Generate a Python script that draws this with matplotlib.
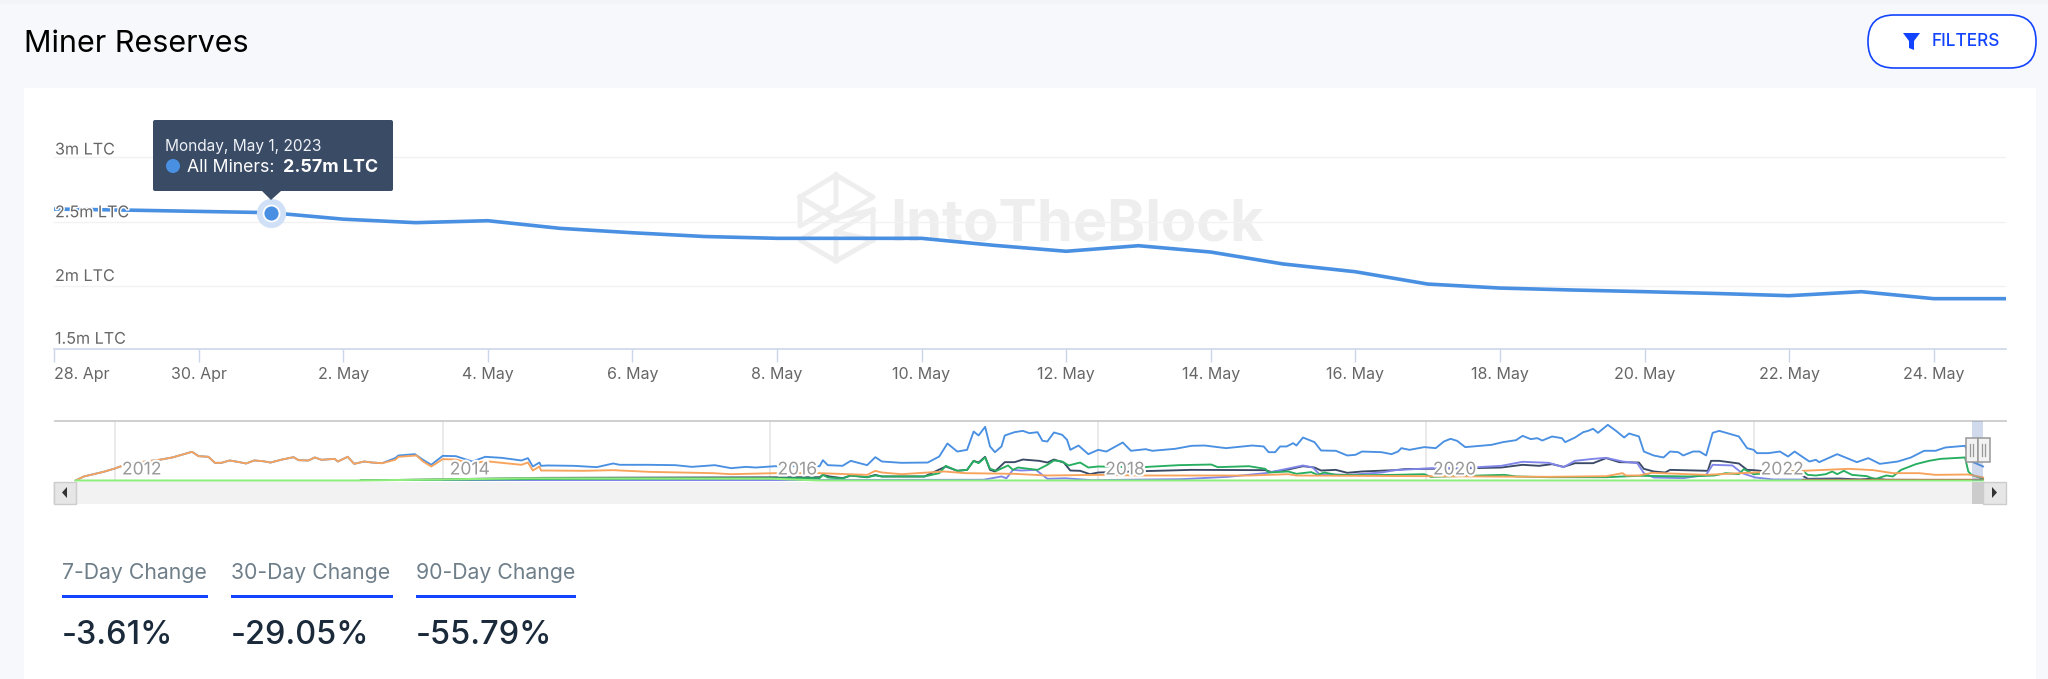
import matplotlib
matplotlib.use('Agg')
import matplotlib.pyplot as plt
import matplotlib.dates as mdates
import matplotlib.patheffects as pe
from matplotlib.patches import FancyBboxPatch, Rectangle, Polygon, Circle
import numpy as np

plt.rcParams['font.family'] = ['Inter', 'DejaVu Sans']

# Main chart, all miners, millions of LTC per day
days = np.arange('2023-04-28', '2023-05-26', dtype='datetime64[D]')
all_miners = [2.598, 2.59, 2.58, 2.57, 2.52, 2.493, 2.508, 2.449, 2.415, 2.386, 2.372, 2.372, 2.372, 2.318,
              2.272, 2.315, 2.266, 2.174, 2.114, 2.019, 1.988, 1.973, 1.96, 1.946, 1.929, 1.96, 1.906, 1.906]
y_ticks = [1.5, 2, 2.5, 3]
y_labels = ['1.5m LTC', '2m LTC', '2.5m LTC', '3m LTC']
tick_days = np.array([np.datetime64('2023-04-28'), np.datetime64('2023-04-30')] + [np.datetime64('2023-05-%02d' % d) for d in range(2, 25, 2)])
tick_labels = ['28. Apr', '30. Apr'] + ['%d. May' % d for d in range(2, 25, 2)]

# Navigator, decimal year and millions of LTC
early_year = [2011.76, 2011.81, 2011.87, 2011.93, 2012.0, 2012.05, 2012.11, 2012.27, 2012.35, 2012.42, 2012.47, 2012.51, 2012.57,
              2012.61, 2012.65, 2012.7, 2012.76, 2012.8, 2012.85, 2012.9, 2012.95, 2013.02, 2013.09, 2013.12, 2013.18, 2013.22,
              2013.26, 2013.34, 2013.36, 2013.42, 2013.46, 2013.52, 2013.57, 2013.63]
early_val = [0, 0.55, 0.86, 1.18, 1.64, 2.05, 2.36, 2.82, 3.14, 3.59, 3.91, 3.32, 3.23,
             2.41, 2.41, 2.73, 2.5, 2.32, 2.73, 2.64, 2.45, 2.86, 3.18, 2.77, 2.73, 3.14,
             2.82, 2.95, 2.59, 3.23, 2.27, 2.59, 2.45, 2.36]

blue_year = [2013.71, 2013.73, 2013.83, 2013.88, 2013.93, 2014.0, 2014.08, 2014.18, 2014.26, 2014.36, 2014.48, 2014.52, 2014.55,
             2014.59, 2014.6, 2014.64, 2014.8, 2014.94, 2015.04, 2015.08, 2015.26, 2015.42, 2015.52, 2015.66, 2015.76, 2015.85,
             2015.91, 2016.03, 2016.3, 2016.32, 2016.35, 2016.44, 2016.49, 2016.59, 2016.64, 2016.68, 2016.8, 2016.96, 2017.03,
             2017.08, 2017.14, 2017.2, 2017.24, 2017.27, 2017.31, 2017.34, 2017.37, 2017.41, 2017.43, 2017.49, 2017.54, 2017.58,
             2017.63, 2017.66, 2017.69, 2017.73, 2017.78, 2017.81, 2017.83, 2017.88, 2017.94, 2018.0, 2018.05, 2018.15, 2018.2,
             2018.29, 2018.33, 2018.47, 2018.57, 2018.65, 2018.78, 2018.94, 2019.01, 2019.04, 2019.08, 2019.11, 2019.15, 2019.19,
             2019.21, 2019.25, 2019.32, 2019.36, 2019.45, 2019.52, 2019.57, 2019.61, 2019.73, 2019.79, 2019.83, 2019.85, 2019.9,
             2019.99, 2020.06, 2020.11, 2020.15, 2020.19, 2020.24, 2020.4, 2020.47, 2020.55, 2020.59, 2020.64, 2020.68, 2020.71,
             2020.77, 2020.83, 2020.85, 2020.91, 2020.96, 2020.99, 2021.02, 2021.05, 2021.11, 2021.16, 2021.21, 2021.24, 2021.3,
             2021.33, 2021.39, 2021.45, 2021.49, 2021.54, 2021.57, 2021.63, 2021.67, 2021.71, 2021.75, 2021.79, 2021.91, 2021.96,
             2022.0, 2022.02, 2022.09, 2022.16, 2022.21, 2022.25, 2022.34, 2022.38, 2022.4, 2022.51, 2022.58, 2022.63, 2022.7,
             2022.77, 2022.88, 2022.96, 2023.04, 2023.11, 2023.17, 2023.29, 2023.33, 2023.36, 2023.4]
blue_val = [3.05, 3.41, 3.59, 2.82, 2.14, 3.36, 3.32, 2.59, 3.23, 3.09, 2.73, 3.05, 1.91,
            2.45, 2.0, 2.05, 2.0, 1.82, 2.32, 2.14, 2.14, 2.09, 1.86, 2.09, 1.68, 1.86,
            1.77, 1.95, 1.95, 2.77, 2.09, 2.0, 2.68, 2.09, 3.18, 2.59, 2.41, 2.45, 3.27,
            5.05, 3.95, 4.18, 6.68, 6.14, 7.32, 4.64, 3.86, 4.64, 6.14, 6.59, 6.77, 6.45,
            6.59, 5.41, 5.32, 6.55, 6.23, 5.55, 4.18, 4.77, 3.59, 4.18, 3.95, 5.18, 4.05,
            4.27, 4.05, 4.32, 4.73, 4.77, 4.41, 4.77, 4.64, 3.86, 3.86, 4.64, 4.64, 5.09,
            4.77, 5.86, 5.23, 4.09, 4.05, 3.41, 3.5, 3.95, 3.86, 3.59, 3.95, 4.41, 4.18,
            4.55, 4.41, 5.32, 5.68, 5.41, 4.55, 4.86, 5.23, 5.5, 6.09, 5.64, 5.77, 5.45,
            6.0, 5.77, 5.23, 5.86, 6.59, 6.77, 7.05, 6.5, 7.59, 6.77, 5.86, 6.41, 6.0,
            3.95, 3.41, 3.14, 3.95, 3.86, 3.41, 3.95, 3.95, 3.41, 6.5, 6.77, 6.0, 4.41,
            4.18, 3.73, 3.73, 3.95, 3.27, 3.95, 2.59, 2.82, 2.5, 3.59, 2.95, 2.5, 3.05,
            2.27, 2.59, 3.14, 4.05, 4.05, 4.5, 4.73, 2.6, 2.3, 1.91]

orange_year = [2013.71, 2013.73, 2013.84, 2013.88, 2013.93, 2014.0, 2014.08, 2014.18, 2014.26, 2014.36, 2014.48, 2014.52, 2014.55,
               2014.59, 2014.6, 2014.64, 2014.86, 2015.04, 2015.26, 2015.65, 2015.76, 2016.03, 2016.3, 2016.59, 2016.64, 2016.68,
               2016.8, 2017.06, 2017.19, 2017.49, 2017.69, 2018.0, 2018.27, 2018.92, 2019.16, 2019.21, 2020.75, 2021.1, 2021.2,
               2021.22, 2021.3, 2021.38, 2021.71, 2022.0, 2022.3, 2022.58, 2022.73, 2022.85, 2023.01, 2023.11, 2023.31, 2023.4]
orange_val = [2.82, 3.23, 3.41, 2.59, 1.91, 2.91, 2.86, 2.27, 2.64, 2.41, 2.14, 2.45, 1.36,
              1.91, 1.36, 1.36, 1.32, 1.41, 1.18, 1.0, 0.86, 1.0, 1.0, 0.77, 1.32, 1.09,
              0.86, 1.23, 1.0, 0.91, 0.68, 0.77, 0.68, 0.68, 0.86, 0.68, 0.5, 0.59, 1.0,
              0.68, 0.68, 1.05, 0.77, 1.09, 1.32, 1.59, 1.41, 1.0, 1.0, 0.77, 0.82, 0.41]

green_year = [2013.5, 2014.0, 2014.6, 2016.3, 2016.32, 2016.35, 2016.44, 2016.49, 2016.59, 2016.64, 2016.68, 2016.94, 2017.03,
              2017.07, 2017.14, 2017.2, 2017.24, 2017.27, 2017.31, 2017.34, 2017.38, 2017.45, 2017.48, 2017.51, 2017.63, 2017.69,
              2017.73, 2017.78, 2017.82, 2017.89, 2017.94, 2018.0, 2018.27, 2018.49, 2018.69, 2018.73, 2018.92, 2019.02, 2019.04,
              2019.16, 2019.21, 2019.3, 2019.34, 2019.38, 2019.45, 2019.63, 2019.81, 2019.99, 2020.03, 2020.48, 2020.55, 2020.75,
              2021.1, 2021.3, 2021.6, 2021.76, 2021.83, 2021.91, 2021.94, 2022.0, 2022.3, 2022.33, 2022.38, 2022.44, 2022.48,
              2022.51, 2022.55, 2022.6, 2022.69, 2022.74, 2022.81, 2022.85, 2022.9, 2022.99, 2023.07, 2023.14, 2023.29, 2023.31,
              2023.33, 2023.4]
green_val = [0, 0.1, 0.2, 0.32, 0.77, 0.41, 0.27, 0.68, 0.45, 0.68, 0.55, 0.55, 1.0,
             2.0, 1.32, 1.45, 2.68, 2.36, 3.14, 1.59, 1.32, 2.05, 1.45, 1.77, 1.45, 2.14,
             2.73, 2.59, 2.05, 2.45, 1.77, 1.91, 1.82, 2.09, 2.18, 1.82, 1.95, 1.59, 1.09,
             1.23, 0.91, 1.14, 0.77, 1.09, 0.77, 0.73, 0.77, 0.86, 0.5, 0.77, 0.55, 0.45,
             0.45, 0.64, 0.55, 0.68, 1.0, 0.86, 1.55, 0.86, 1.32, 0.77, 0.68, 0.86, 1.23,
             0.86, 1.32, 0.77, 0.59, 0.18, 0.68, 0.55, 1.45, 2.23, 2.68, 2.95, 3.14, 1.23,
             0.77, 0.23]

dark_year = [2013.5, 2014.6, 2016.3, 2016.32, 2016.36, 2016.44, 2016.49, 2016.59, 2016.64, 2016.68, 2016.94, 2017.07, 2017.14,
             2017.2, 2017.24, 2017.27, 2017.31, 2017.34, 2017.37, 2017.43, 2017.49, 2017.54, 2017.64, 2017.69, 2017.73, 2017.79,
             2017.83, 2017.89, 2017.95, 2018.0, 2018.27, 2018.57, 2019.02, 2019.06, 2019.16, 2019.25, 2019.32, 2019.36, 2019.45,
             2019.52, 2019.61, 2019.81, 2019.87, 2020.28, 2020.46, 2020.59, 2020.69, 2020.77, 2020.84, 2020.91, 2021.02, 2021.1,
             2021.18, 2021.3, 2021.33, 2021.39, 2021.46, 2021.49, 2021.72, 2021.74, 2021.79, 2021.91, 2021.96, 2022.0, 2022.29,
             2022.33, 2022.52, 2022.65, 2022.73, 2022.81, 2023.4]
dark_val = [0, 0.36, 0.45, 0.77, 0.55, 0.32, 0.68, 0.45, 0.77, 0.55, 0.55, 1.91, 1.32,
            1.45, 2.68, 2.45, 3.23, 1.45, 1.23, 2.5, 2.5, 2.86, 2.68, 2.45, 2.86, 2.45,
            1.36, 1.32, 0.86, 1.09, 1.27, 1.45, 1.41, 1.14, 1.5, 1.95, 1.77, 1.36, 1.45,
            1.05, 1.23, 1.41, 1.55, 1.68, 1.77, 2.14, 2.0, 2.23, 1.86, 2.36, 2.36, 3.05,
            2.5, 2.45, 1.59, 1.23, 1.09, 1.45, 1.32, 2.68, 2.68, 2.32, 1.45, 1.41, 0.77,
            0.23, 0.27, 0.14, 0.27, 0.09, 0.05]

purple_year = [2014.0, 2017.3, 2017.41, 2017.44, 2017.48, 2017.53, 2017.62, 2017.69, 2017.8, 2017.96, 2018.51, 2018.79, 2019.02,
               2019.12, 2019.25, 2019.31, 2019.35, 2019.53, 2019.73, 2019.81, 2020.04, 2020.28, 2020.46, 2020.59, 2020.75, 2020.84,
               2020.91, 2021.02, 2021.1, 2021.2, 2021.29, 2021.33, 2021.39, 2021.57, 2021.71, 2021.75, 2021.87, 2021.93, 2022.01,
               2022.12, 2023.4]
purple_val = [0, 0.1, 0.55, 0.3, 1.45, 1.36, 1.45, 0.23, 0.3, 0.05, 0.18, 0.5, 1.0,
              1.45, 2.05, 1.77, 0.86, 0.77, 1.09, 1.41, 1.68, 1.77, 2.0, 2.55, 2.41, 1.82,
              2.68, 2.95, 3.09, 2.59, 2.36, 1.0, 0.41, 0.32, 0.77, 2.14, 2.05, 1.0, 0.41,
              0.14, 0.05]

red_year = [2022.3, 2023.0, 2023.4]
red_val = [0.08, 0.1, 0.1]

lime_year = [2011.76, 2013.5, 2014.5, 2016.0, 2016.3, 2023.4]
lime_val = [0, 0, 0.3, 0.25, 0, 0]

year_ticks = [2012, 2014, 2016, 2018, 2020, 2022]
stat_labels = ['7-Day Change', '30-Day Change', '90-Day Change']
stat_values = ['-3.61%', '-29.05%', '-55.79%']

W, H = 2048, 679
BLUE = '#4a90e2'
fig = plt.figure(figsize=(W / 100, H / 100), dpi=100, facecolor='#f7f8fc')


def px_axes(x0, y0, x1, y1, zorder):
    a = fig.add_axes([x0 / W, 1 - y1 / H, (x1 - x0) / W, (y1 - y0) / H], zorder=zorder)
    a.patch.set_alpha(0)
    return a


# Page layer in pixel coordinates
bg = px_axes(0, 0, W, H, 0)
bg.set_xlim(0, W)
bg.set_ylim(H, 0)
bg.axis('off')
bg.add_patch(Rectangle((0, 0), W, 4, color='#f3f4f7', lw=0))
bg.add_patch(Rectangle((24, 88), 2012, 600, color='white', lw=0))
bg.text(24, 44, 'Miner Reserves', fontsize=22, color='black', va='center')

bg.add_patch(FancyBboxPatch((1868, 15), 168, 53, boxstyle='round,pad=0,rounding_size=26',
                            fc='white', ec='#1244ff', lw=1.2))
bg.add_patch(Polygon([(1903, 33), (1920, 33), (1914, 41), (1914, 50), (1909, 48), (1909, 41)], color='#1244ff', lw=0))
bg.text(1932, 42, 'FILTERS', fontsize=12.4, color='#1244ff', va='center', fontweight='medium')

# Watermark
wm = '#eeeeee'
for seg in [[(836, 175), (873, 197), (836, 220), (800, 197), (836, 175)],
            [(800, 197), (800, 226), (836, 205), (836, 175)],
            [(800, 197), (836, 218)],
            [(873, 210), (873, 240), (836, 261), (800, 240), (836, 218), (873, 210)],
            [(836, 261), (836, 232), (873, 210)],
            [(836, 232), (873, 240)]]:
    xs, ys = zip(*seg)
    bg.plot(xs, ys, color=wm, lw=3.5, solid_joinstyle='round')
bg.text(890, 240.5, 'IntoTheBlock', fontsize=41.5, fontweight='bold', color=wm, va='baseline')

# Main chart
ax = px_axes(54, 100, 2006, 349.5, 1)
ax.plot(days, all_miners, color=BLUE, lw=2.6, zorder=3, clip_on=False, solid_capstyle='butt')
ax.set_xlim(days[0], days[-1])
ax.set_ylim(2 + (286.5 - 349.5) / 129.5, 2 + (286.5 - 100) / 129.5)
for s in ['top', 'right', 'left']:
    ax.spines[s].set_visible(False)
ax.spines['bottom'].set_color('#ccd6eb')
ax.spines['bottom'].set_linewidth(1.2)
ax.set_yticks([t for t in y_ticks if t > 1.6])
ax.tick_params(axis='y', length=0, labelleft=False)
ax.grid(axis='y', color='#f2f2f2', lw=1)
ax.set_axisbelow(True)
ax.set_xticks(mdates.date2num(tick_days))
ax.set_xticklabels(tick_labels, fontsize=11.5, color='#666666')
ax.tick_params(axis='x', length=9.5, width=1, color='#ccd6eb', pad=3)
ax.get_xticklabels()[0].set_ha('left')
# labels sit a little unevenly above the grid in the original
for t, lab, off in zip(y_ticks, y_labels, [12, 10, 9, 7]):
    ax.annotate(lab, (0, t), xycoords=ax.get_yaxis_transform(), xytext=(1, off), textcoords='offset pixels',
                fontsize=11.6, color='#666666', va='center', ha='left', annotation_clip=False, zorder=4,
                path_effects=[pe.withStroke(linewidth=2, foreground='white')])
hover = 3
ax.plot(days[hover], all_miners[hover], 'o', ms=21, mfc='#cfe0f7', mec='none', zorder=4)
ax.plot(days[hover], all_miners[hover], 'o', ms=11.5, mfc=BLUE, mec='white', mew=1.3, zorder=5)

# Navigator
nav = px_axes(55, 420.5, 2006, 480.5, 1)
nav.set_xlim(2011.634, 2023.54)
nav.set_ylim(0, 8.18)
for s in ['left', 'right', 'bottom']:
    nav.spines[s].set_visible(False)
nav.spines['top'].set_color('#cccccc')
nav.spines['top'].set_linewidth(1.3)
nav.set_yticks([])
nav.set_xticks(year_ticks)
nav.tick_params(axis='x', length=0, labelbottom=False)
nav.grid(axis='x', color='#e6e6e6', lw=1.2)
nav.set_axisbelow(True)
nav.plot(early_year + blue_year, early_val + blue_val, color=BLUE, lw=1.35, zorder=2)
nav.plot(dark_year, dark_val, color='#3a4a66', lw=1.35, zorder=3)
nav.plot(green_year, green_val, color='#27ae60', lw=1.35, zorder=4)
nav.plot(early_year + orange_year, early_val + orange_val, color='#f7a35c', lw=1.35, zorder=5)
nav.plot(purple_year, purple_val, color='#8085e9', lw=1.35, zorder=3)
nav.plot(red_year, red_val, color='#c0392b', lw=1.35, zorder=5)
nav.plot(lime_year, lime_val, color='#90ed7d', lw=1.5, zorder=6, clip_on=False)
for yr in year_ticks:
    nav.annotate(str(yr), (yr, 0), xytext=(7, 10.5), textcoords='offset pixels', fontsize=12.6, color='#999999',
                 va='center', ha='left', zorder=7,
                 path_effects=[pe.withStroke(linewidth=3, foreground='white')])
nav.axvspan(2023.33, 2023.40, color='#6685c2', alpha=0.3, lw=0, zorder=8)

# Scrollbar, handles and tooltip go on the top layer
top = px_axes(0, 0, W, H, 3)
top.set_xlim(0, W)
top.set_ylim(H, 0)
top.axis('off')
top.add_patch(Rectangle((53, 481.5), 1953, 22, color='#f2f2f2', lw=0))
top.add_patch(Rectangle((1972, 481.5), 11, 22, color='#cccccc', lw=0))
top.add_patch(Rectangle((53.5, 481.5), 22.5, 22, fc='#e6e6e6', ec='#cccccc', lw=1))
top.add_patch(Rectangle((1983, 481.5), 22.5, 22, fc='#e6e6e6', ec='#cccccc', lw=1))
top.add_patch(Polygon([(67, 487), (67, 498), (62, 492.5)], color='#333333', lw=0))
top.add_patch(Polygon([(1992, 487), (1992, 498), (1997, 492.5)], color='#333333', lw=0))
for hx in [1965.5, 1977.5]:
    top.add_patch(Rectangle((hx, 438), 12, 24, fc='#f2f2f2', ec='#999999', lw=1.1))
    top.plot([hx + 4.5, hx + 4.5], [444, 456], color='#999999', lw=0.9)
    top.plot([hx + 7.5, hx + 7.5], [444, 456], color='#999999', lw=0.9)

tip = '#3a4b66'
top.add_patch(FancyBboxPatch((153, 120), 240, 71, boxstyle='round,pad=0,rounding_size=2', fc=tip, ec='none'))
top.add_patch(Polygon([(262, 191), (281, 191), (271, 200)], color=tip, lw=0))
top.text(165, 146, 'Monday, May 1, 2023', fontsize=11.1, color='#eef1f6', va='center')
top.add_patch(Circle((173, 166), 7, color=BLUE, lw=0))
top.text(187, 167, 'All Miners:', fontsize=12.7, color='white', va='center')
top.text(283, 167, '2.57m LTC', fontsize=12.9, color='white', va='center', fontweight='bold')

# Stats row
stat_x = [(62, 208), (231, 393), (416, 576)]
for (x0, x1), lab, val in zip(stat_x, stat_labels, stat_values):
    top.text(x0, 573, lab, fontsize=15.3, color='#6f7f8a', va='center')
    top.add_patch(Rectangle((x0, 594.5), x1 - x0, 3.2, color='#1244ff', lw=0))
    top.text(x0, 635, val, fontsize=23.4, color='#1a2a3a', va='center', fontweight='medium')

fig.savefig('out.png', dpi=100, facecolor=fig.get_facecolor())
